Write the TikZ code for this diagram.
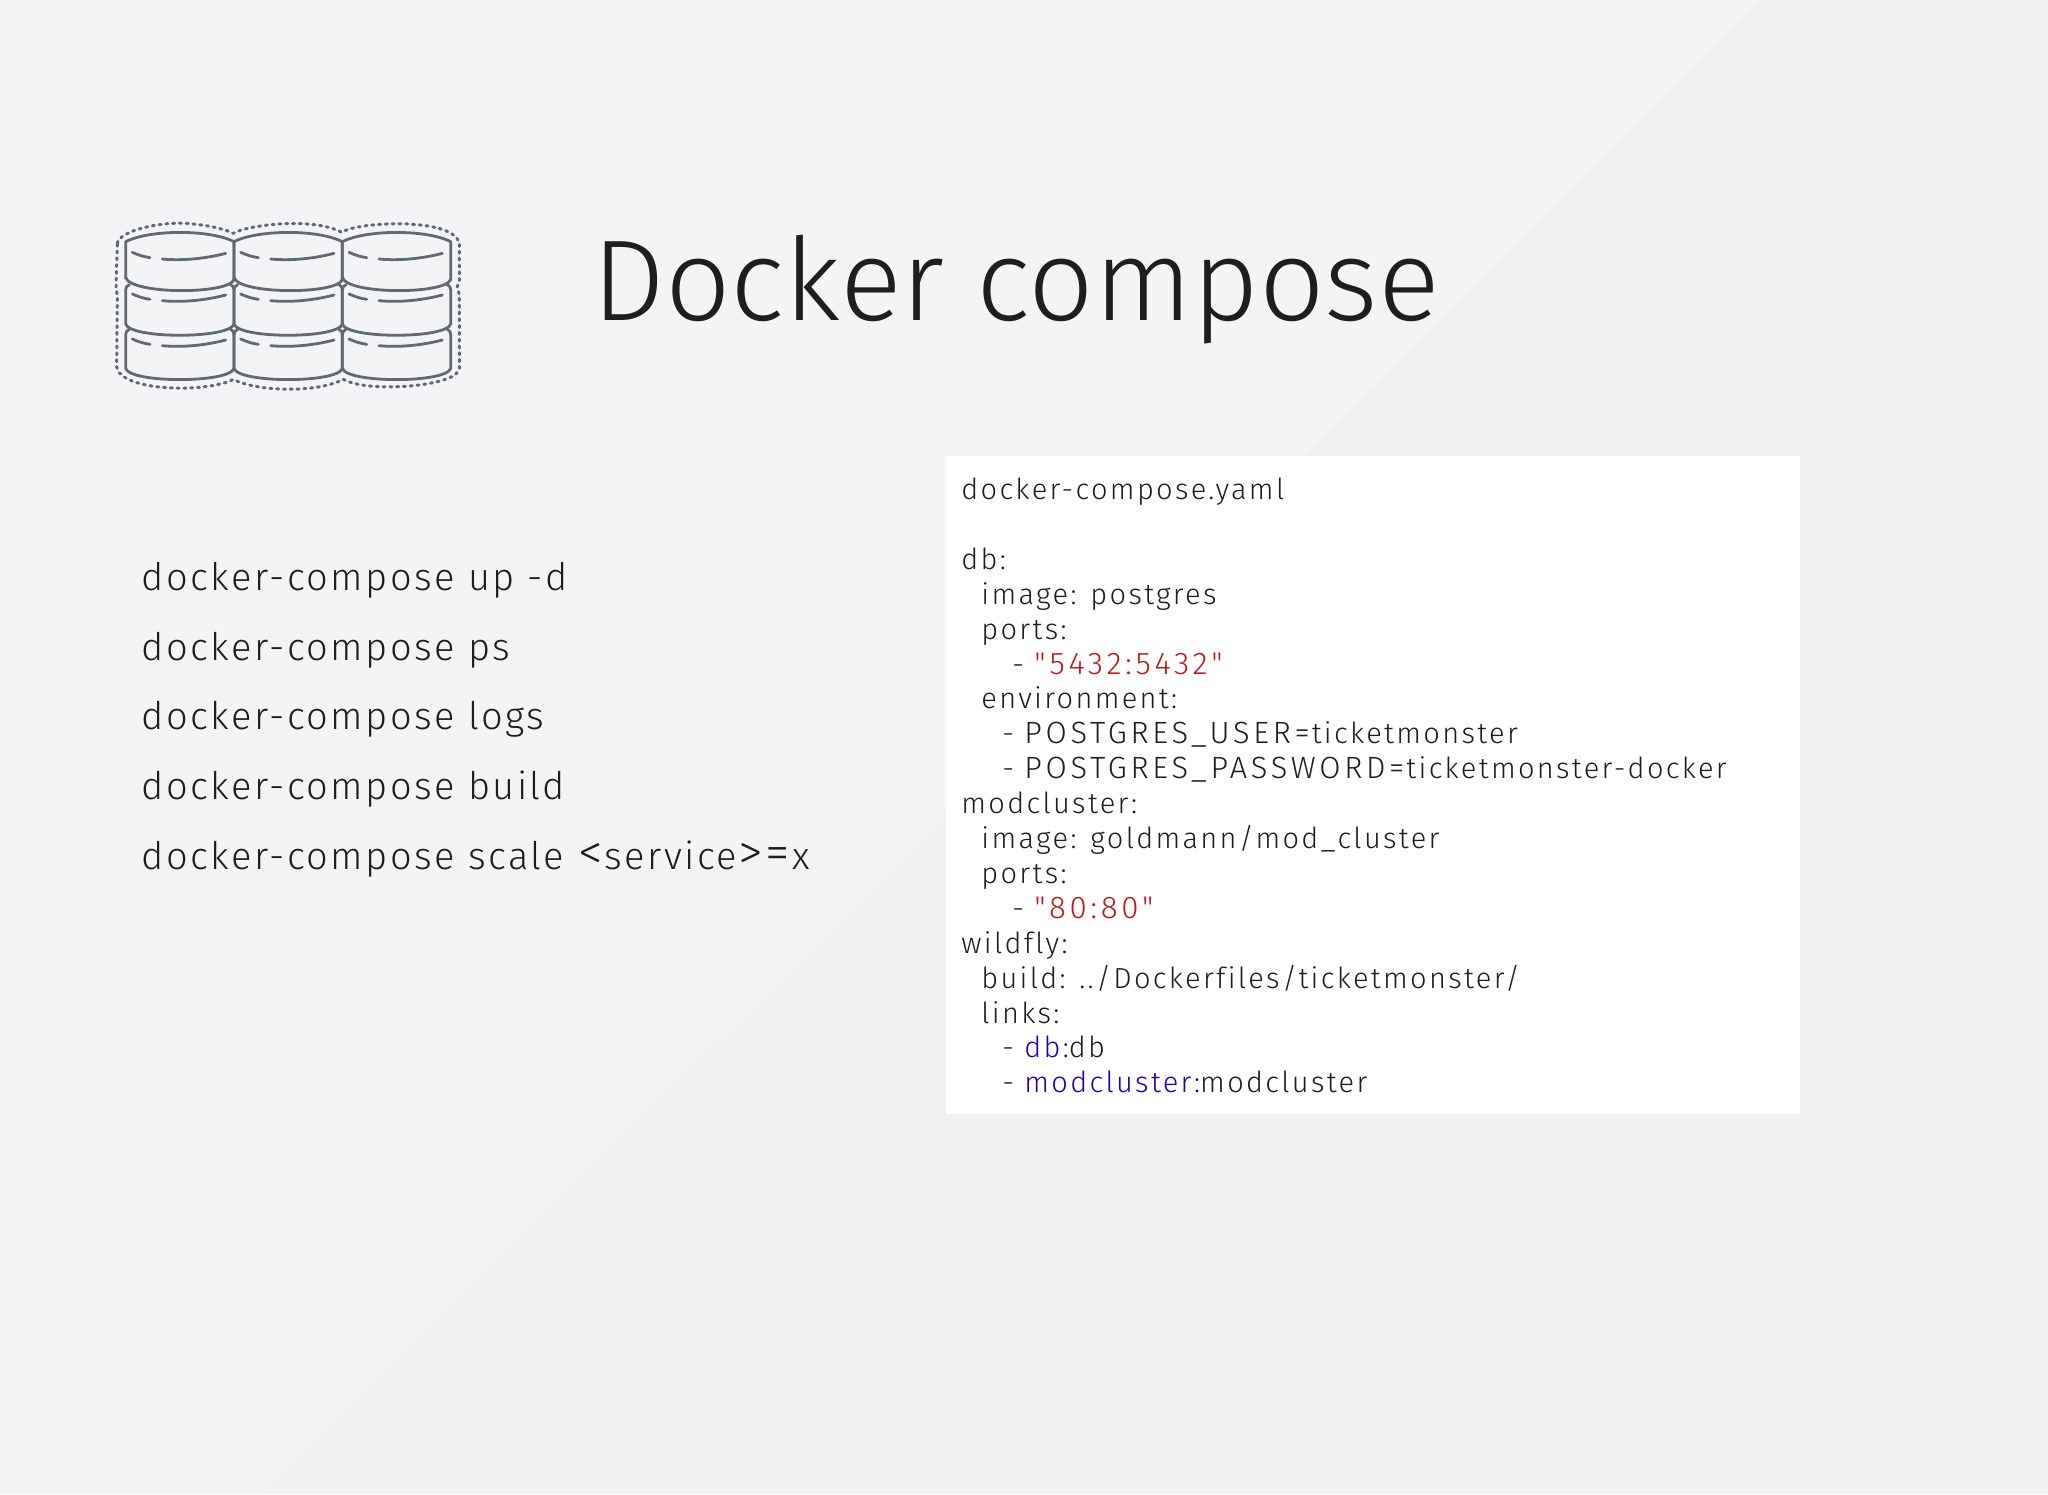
\documentclass[tikz,border=0pt]{standalone}
\usepackage{fontspec}
\setmainfont{Fira Sans Light}
\newfontfamily\titlefont[Ligatures=NoCommon]{Fira Sans Light}
\newfontfamily\listfont[LetterSpace=6.5,Ligatures=NoCommon]{Fira Sans Light}
\newfontfamily\listsyms[Scale=1.3,Ligatures=NoCommon]{Fira Sans Light}
\newfontfamily\codefont[LetterSpace=8,Ligatures=NoCommon]{Fira Sans Light}
\newfontfamily\codecaps[LetterSpace=12,Scale=1.06,Ligatures=NoCommon]{Fira Sans Light}
\newfontfamily\codedigits[LetterSpace=12,Scale=1.08,Ligatures=NoCommon]{Fira Sans Light}
\definecolor{bglight}{HTML}{F4F4F6}
\definecolor{bgdark}{HTML}{F1F1F3}
\definecolor{iconcol}{HTML}{5F6B6E}
\definecolor{inkcol}{HTML}{1C1E20}
\definecolor{portcol}{HTML}{BE1A18}
\definecolor{linkcol}{HTML}{2400B0}
\newcommand{\capsrun}[1]{{\codecaps #1}\kern1pt}
\newcommand{\portrun}[1]{\textcolor{portcol}{\codedigits #1}}
\newcommand{\symrun}[1]{\kern0.5pt{\listsyms #1}\kern1pt}
\tikzset{
  listline/.style={anchor=base west, inner sep=0pt, text=inkcol, font=\listfont\fontsize{19}{21}\selectfont},
  codeline/.style={anchor=base west, inner sep=0pt, text=inkcol, font=\codefont\fontsize{14.5}{16}\selectfont},
  iconline/.style={draw=iconcol, line width=1.4pt, line cap=round, line join=round}
}
\begin{document}
\begin{tikzpicture}[x=0.5pt,y=-0.5pt]
\useasboundingbox (0,0) rectangle (2048,1494);
\fill[bglight] (0,0) rectangle (2048,1494); % background
\fill[bgdark] (1760,0) -- (2048,0) -- (2048,1494) -- (262,1494) -- cycle; % diagonal band
% icon, in units of a third of a pixel
\begin{scope}[x=0.16667pt,y=-0.16667pt,shift={(300,600)}]
\foreach \c in {0,325,650} {
  \begin{scope}[xshift=\c*0.16667pt]
  \draw[iconline] (77,235) -- (77,125) .. controls (150,88) and (330,88) .. (402,125) -- (402,240); % top of disk
  \draw[iconline] (77,232) .. controls (90,284) and (389,284) .. (402,238); % first bottom
  \draw[iconline] (88,254) .. controls (80,258) and (77,262) .. (77,270) -- (77,372) .. controls (90,417) and (389,417) .. (402,372) -- (402,270) .. controls (402,262) and (399,258) .. (392,254); % second disk
  \draw[iconline] (88,388) .. controls (80,392) and (77,396) .. (77,404) -- (77,505) .. controls (90,550) and (389,550) .. (402,505) -- (402,404) .. controls (402,396) and (399,392) .. (392,388); % third disk
  \foreach \d in {0,125,260} {
    \draw[iconline] (97,157+\d) .. controls (115,165+\d) and (130,170+\d) .. (150,173+\d); % short dash
    \draw[iconline] (187,177+\d) .. controls (250,183+\d) and (320,175+\d) .. (377,160+\d); % long dash
  }
  \end{scope}
}
\draw[iconline, line width=1.5pt, dash pattern=on 1pt off 2.4pt] (52,130) .. controls (55,95) and (180,60) .. (280,72) .. controls (340,78) and (380,90) .. (400,100) .. controls (440,75) and (640,50) .. (725,97) .. controls (770,65) and (1060,50) .. (1078,130) -- (1078,240) -- (1072,260) -- (1078,285) -- (1078,505) .. controls (1075,560) and (800,580) .. (730,538) .. controls (650,580) and (470,575) .. (400,538) .. controls (320,580) and (60,575) .. (50,500) -- (52,290) -- (48,260) -- cycle; % dotted outline
\end{scope}
% title
\node[anchor=base west, inner sep=0pt, text=inkcol, font=\titlefont\fontsize{57.5}{60}\selectfont] (title) at (592,320) {Docker compose};
% commands
\foreach \n/\y/\txt in {up/590/{docker-compose up -d},ps/660/{docker-compose ps},logs/729.5/{docker-compose logs},build/799.5/{docker-compose build},scale/869.5/{docker-compose scale \symrun{<}service\symrun{>}\symrun{=}x}}
  \node[listline] (cmd\n) at (141,\y) {\txt};
% yaml panel
\fill[white] (946,456) rectangle (1800,1114);
\foreach \n/\x/\txt in {
  0/961/{docker-compose.yaml},
  2/961/{db:},
  3/981/{image: postgres},
  4/981/{ports:},
  5/1012/{- \portrun{"5432:5432"}},
  6/981/{environment:},
  7/1002/{- \capsrun{POSTGRES\_USER=}ticketmonster},
  8/1002/{- \capsrun{POSTGRES\_PASSWORD=}ticketmonster-docker},
  9/961/{modcluster:},
  10/981/{image: goldmann/mod\_cluster},
  11/981/{ports:},
  12/1012/{- \portrun{"80:80"}},
  13/961/{wildfly:},
  14/981/{build: ../Dockerfiles/ticketmonster/},
  15/981/{links:},
  16/1002/{- \textcolor{linkcol}{db:}db},
  17/1002/{- \textcolor{linkcol}{modcluster:}modcluster}}
  \node[codeline] (yaml\n) at (\x,499.5+34.9*\n) {\txt};
\end{tikzpicture}
\end{document}
